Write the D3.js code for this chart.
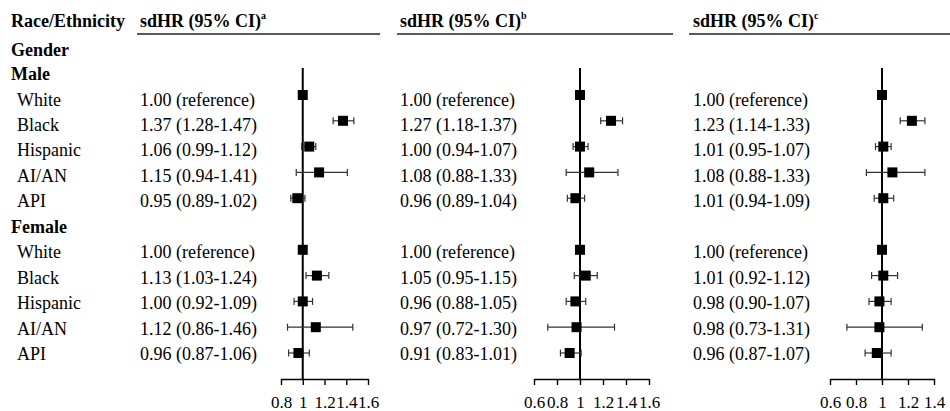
<!DOCTYPE html>
<html>
<head>
<meta charset="utf-8">
<script src="https://cdn.jsdelivr.net/npm/d3@7.9.0/dist/d3.min.js"></script>
<style>
  html, body { margin: 0; padding: 0; background: #fff; }
  svg { display: block; font-family: "Liberation Serif", "Times New Roman", serif; }
</style>
</head>
<body>
<svg id="chart" width="950" height="411"></svg>
<script>
// --- data ---
const groups = ['Male', 'Female'];
const races = ['White', 'Black', 'Hispanic', 'AI/AN', 'API'];

// panel a
const hrA = [1.00, 1.37, 1.06, 1.15, 0.95, 1.00, 1.13, 1.00, 1.12, 0.96];
const loA = [null, 1.28, 0.99, 0.94, 0.89, null, 1.03, 0.92, 0.86, 0.87];
const hiA = [null, 1.47, 1.12, 1.41, 1.02, null, 1.24, 1.09, 1.46, 1.06];
// panel b
const hrB = [1.00, 1.27, 1.00, 1.08, 0.96, 1.00, 1.05, 0.96, 0.97, 0.91];
const loB = [null, 1.18, 0.94, 0.88, 0.89, null, 0.95, 0.88, 0.72, 0.83];
const hiB = [null, 1.37, 1.07, 1.33, 1.04, null, 1.15, 1.05, 1.30, 1.01];
// panel c
const hrC = [1.00, 1.23, 1.01, 1.08, 1.01, 1.00, 1.01, 0.98, 0.98, 0.96];
const loC = [null, 1.14, 0.95, 0.88, 0.94, null, 0.92, 0.90, 0.73, 0.87];
const hiC = [null, 1.33, 1.07, 1.33, 1.09, null, 1.12, 1.07, 1.31, 1.07];

const ticksA = [0.8, 1, 1.2, 1.4, 1.6];
const ticksB = [0.6, 0.8, 1, 1.2, 1.4, 1.6];
const ticksC = [0.6, 0.8, 1, 1.2, 1.4];

const supers = ['a', 'b', 'c'];

// panel layout (text column, header rule, plot range)
const panels = [
  { hr: hrA, lo: loA, hi: hiA, ticks: ticksA, textX: 140, rule: [137, 380], dom: [0.8, 1.6], rng: [281, 368] },
  { hr: hrB, lo: loB, hi: hiB, ticks: ticksB, textX: 400, rule: [397, 673], dom: [0.6, 1.6], rng: [534, 649] },
  { hr: hrC, lo: loC, hi: hiC, ticks: ticksC, textX: 693, rule: [689, 950], dom: [0.6, 1.4], rng: [830, 934] },
];

const svg = d3.select('#chart');

// row keys: White(M)..API(M), Female header, White(F)..API(F)
const rowKeys = [];
groups.forEach((g, gi) => {
  if (gi > 0) rowKeys.push(g);
  races.forEach(r => rowKeys.push(g + '|' + r));
});
const dataKeys = rowKeys.filter(k => k.includes('|'));

const yText = d3.scalePoint().domain(rowKeys).range([99.5, 354]);
const yMark = d3.scalePoint().domain(rowKeys).range([95, 353]);
const baseShift = 6; // text centre -> baseline

const axisY = 379, lineTop = 68;

// left column
svg.append('text').attr('x', 11).attr('y', 27).attr('font-size', 18)
  .attr('font-weight', 'bold').text('Race/Ethnicity');
svg.append('text').attr('x', 11).attr('y', 50 + baseShift).attr('font-size', 18)
  .attr('font-weight', 'bold').text('Gender');
svg.append('text').attr('x', 11).attr('y', 74 + baseShift).attr('font-size', 18)
  .attr('font-weight', 'bold').text('Male');
svg.append('text').attr('x', 11).attr('y', yText('Female') + baseShift).attr('font-size', 18)
  .attr('font-weight', 'bold').text('Female');

svg.selectAll('text.race')
  .data(dataKeys)
  .join('text')
  .attr('class', 'race')
  .attr('x', 17)
  .attr('y', d => yText(d) + baseShift)
  .attr('font-size', 18)
  .text(d => d.split('|')[1]);

const f2 = d3.format('.2f');

panels.forEach((p, pi) => {
  const x = d3.scaleLinear().domain(p.dom).range(p.rng);
  const g = svg.append('g');

  // header
  const h = g.append('text').attr('x', p.textX).attr('y', 27)
    .attr('font-size', 18).attr('font-weight', 'bold').text('sdHR (95% CI)');
  h.append('tspan').attr('font-size', 10).attr('dy', -8).text(supers[pi]);
  g.append('line')
    .attr('x1', p.rule[0]).attr('x2', p.rule[1])
    .attr('y1', 34).attr('y2', 34)
    .attr('stroke', '#222').attr('stroke-width', 1.3);

  const rows = dataKeys.map((k, i) => ({ key: k, hr: p.hr[i], lo: p.lo[i], hi: p.hi[i] }));

  // value text
  g.selectAll('text.val')
    .data(rows)
    .join('text')
    .attr('class', 'val')
    .attr('x', p.textX)
    .attr('y', d => yText(d.key) + baseShift)
    .attr('font-size', 18)
    .text(d => d.lo == null ? `${f2(d.hr)} (reference)` : `${f2(d.hr)} (${f2(d.lo)}-${f2(d.hi)})`);

  // axis
  const axis = d3.axisBottom(x).tickValues(p.ticks).tickSize(6).tickSizeOuter(0)
    .tickFormat(d => String(d));
  const ax = g.append('g').attr('transform', `translate(0,${axisY})`).call(axis);
  ax.select('.domain').attr('stroke', '#000').attr('stroke-width', 1.6);
  ax.selectAll('.tick line').attr('stroke', '#000').attr('stroke-width', 1.4);
  ax.selectAll('.tick text')
    .attr('font-family', '"Liberation Serif", serif')
    .attr('font-size', 17).attr('fill', '#000')
    .attr('dy', null).attr('y', 29);

  // reference line at 1
  g.append('line')
    .attr('x1', x(1)).attr('x2', x(1))
    .attr('y1', lineTop).attr('y2', axisY)
    .attr('stroke', '#000').attr('stroke-width', 2);

  // CIs
  const ci = rows.filter(d => d.lo != null);
  g.selectAll('line.ci')
    .data(ci)
    .join('line')
    .attr('class', 'ci')
    .attr('x1', d => x(d.lo)).attr('x2', d => x(d.hi))
    .attr('y1', d => yMark(d.key)).attr('y2', d => yMark(d.key))
    .attr('stroke', '#333').attr('stroke-width', 1.2);
  ['lo', 'hi'].forEach(side => {
    g.selectAll('line.cap-' + side)
      .data(ci)
      .join('line')
      .attr('class', 'cap-' + side)
      .attr('x1', d => x(d[side])).attr('x2', d => x(d[side]))
      .attr('y1', d => yMark(d.key) - 3.5).attr('y2', d => yMark(d.key) + 3.5)
      .attr('stroke', '#333').attr('stroke-width', 1.2);
  });

  // point estimates
  const s = 10;
  g.selectAll('rect.pt')
    .data(rows)
    .join('rect')
    .attr('class', 'pt')
    .attr('x', d => x(d.hr) - s / 2)
    .attr('y', d => yMark(d.key) - s / 2)
    .attr('width', s).attr('height', s)
    .attr('fill', '#000');
});
</script>
</body>
</html>
